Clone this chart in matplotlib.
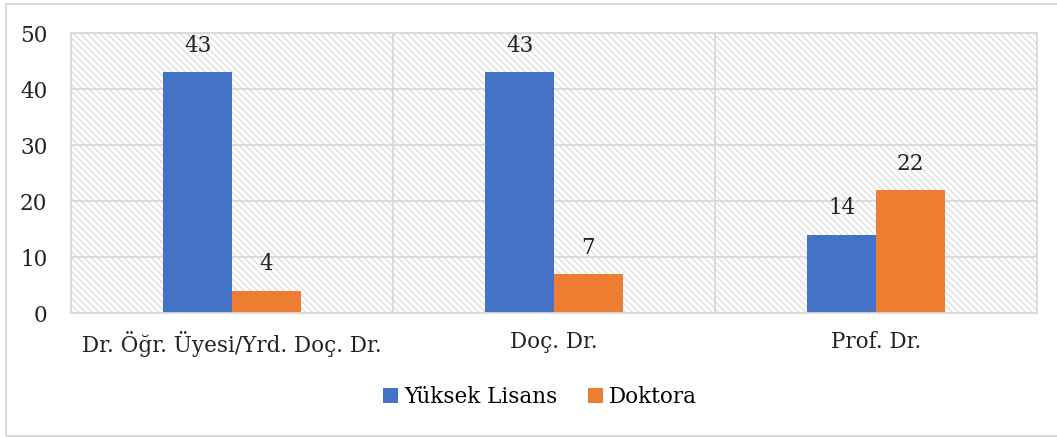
import numpy as np
import matplotlib.pyplot as plt
from matplotlib.patches import Rectangle

# -------------------------------
# Data
# -------------------------------
categories = ["Dr. Öğr. Üyesi/Yrd. Doç. Dr.", "Doç. Dr.", "Prof. Dr."]
yuksek_lisans = [43, 43, 14]
doktora = [4, 7, 22]
series_names = ["Yüksek Lisans", "Doktora"]
y_ticks = [0, 10, 20, 30, 40, 50]

blue = "#4472C4"
orange = "#ED7D31"
grid_gray = "#d9d9d9"

plt.rcParams["font.family"] = ["DejaVu Serif"]
plt.rcParams["hatch.linewidth"] = 0.8

fig = plt.figure(figsize=(10.57, 4.37), dpi=100)
ax = fig.add_axes([71 / 1057, 1 - 313 / 437, (1037 - 71) / 1057, 280 / 437])

# hatched plot area
bg = Rectangle((0, 0), 1, 1, transform=ax.transAxes, facecolor="white",
               edgecolor="#d8d8d8", hatch="\\\\\\\\\\", linewidth=0, zorder=0)
ax.add_patch(bg)

x = np.arange(len(categories))
w = 0.213
b1 = ax.bar(x - w / 2, yuksek_lisans, w, color=blue, label=series_names[0], zorder=3)
b2 = ax.bar(x + w / 2, doktora, w, color=orange, label=series_names[1], zorder=3)

for bars in (b1, b2):
    for rect in bars:
        ax.annotate(str(int(rect.get_height())),
                    (rect.get_x() + rect.get_width() / 2, rect.get_height()),
                    xytext=(0, 11), textcoords="offset points",
                    ha="center", va="bottom", fontsize=15.5, color="#222222")

ax.set_xlim(-0.5, 2.5)
ax.set_ylim(0, 50)
ax.set_yticks(y_ticks)
ax.set_xticks(x)
ax.set_xticklabels(categories)
ax.tick_params(axis="both", length=0, labelsize=15.5, colors="#222222")
ax.tick_params(axis="y", pad=17)
ax.tick_params(axis="x", pad=13)

# grid lines
for yv in y_ticks[1:]:
    ax.axhline(yv, color=grid_gray, linewidth=1.3, zorder=1)
for xv in [0.5, 1.5]:
    ax.axvline(xv, color=grid_gray, linewidth=1.3, zorder=1)

for side in ["top", "right", "left", "bottom"]:
    ax.spines[side].set_color(grid_gray)
    ax.spines[side].set_linewidth(1.3)
ax.spines["bottom"].set_zorder(4)

fig.legend(handles=[b1, b2], loc="center", bbox_to_anchor=(540 / 1057, 1 - 397 / 437),
           ncol=2, frameon=False, fontsize=15.5, handlelength=0.7, handleheight=0.7,
           columnspacing=1.4, handletextpad=0.3)

# chart border
fig.patches.append(Rectangle((6 / 1057, 1 / 437), 1.2, 1 - 5 / 437,
                             transform=fig.transFigure, fill=False,
                             edgecolor=grid_gray, linewidth=1.5))

plt.savefig("out.png", dpi=100)
plt.close()
